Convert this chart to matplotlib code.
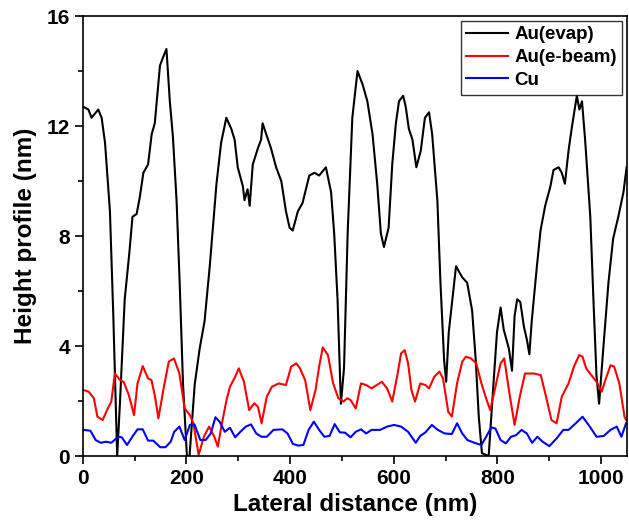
import matplotlib
matplotlib.use("Agg")
import matplotlib.pyplot as plt
from matplotlib.ticker import MultipleLocator

plt.rcParams['font.family'] = ['Liberation Sans', 'DejaVu Sans']
plt.rcParams['font.weight'] = 'bold'

# Au(evap) height profile
evap_x = [1, 11, 17, 30, 36.5, 43, 52.5, 59, 66.5, 72, 81, 90, 96, 104, 110, 117, 126, 133, 139, 149,
          155, 161.5, 168, 174, 181, 187, 193.5, 201, 206, 216, 225.5, 235, 245, 258, 267, 277, 286.5, 293,
          299, 309, 312, 318, 322, 328, 338, 344, 347, 354, 363, 373, 383, 392, 399, 405, 415, 424, 437,
          447, 456, 469, 479, 485, 491.5, 498, 504, 511, 520, 530, 540, 549, 559, 568, 575, 581, 590, 597,
          604, 610, 618, 623, 629, 636, 643.5, 652, 660, 668, 674, 684, 690, 697, 701, 706, 713, 720, 732,
          741.5, 751, 758, 764, 770, 783, 790, 799, 806, 812, 822, 828, 833, 838, 844, 851, 857, 861.5,
          866, 876, 883, 892, 902, 908, 918, 924, 930, 937, 943, 953, 958, 963, 969, 979, 985, 991, 996,
          1004, 1014, 1023, 1033, 1043, 1049]
evap_y = [12.7, 12.6, 12.3, 12.6, 12.3, 11.4, 8.9, 5.1, 0.0, 2.0, 5.7, 7.4, 8.7, 8.8, 9.4, 10.3, 10.6, 11.7,
          12.1, 14.2, 14.5, 14.8, 12.9, 11.6, 9.3, 6.3, 2.6, 0.0, 0.0, 2.6, 3.9, 4.9, 6.9, 9.9, 11.4, 12.3,
          11.9, 11.5, 10.5, 9.8, 9.3, 9.7, 9.1, 10.6, 11.2, 11.5, 12.1, 11.7, 11.2, 10.5, 10.0, 8.9, 8.3,
          8.2, 8.9, 9.2, 10.2, 10.3, 10.2, 10.5, 9.6, 8.1, 5.7, 1.9, 3.2, 8.1, 12.3, 14.0, 13.5, 12.9, 11.7,
          9.9, 8.1, 7.6, 8.3, 10.6, 12.1, 12.9, 13.1, 12.7, 11.9, 11.5, 10.5, 11.1, 12.3, 12.5, 11.7, 9.3,
          6.3, 3.5, 2.7, 4.5, 5.7, 6.9, 6.5, 6.3, 5.3, 3.5, 1.4, 0.1, 0.0, 2.0, 4.5, 5.4, 4.6, 3.9, 3.1,
          5.1, 5.7, 5.6, 4.7, 4.2, 3.7, 4.9, 6.9, 8.2, 9.1, 9.8, 10.4, 10.5, 10.3, 9.9, 11.1, 11.9, 13.1,
          12.6, 12.9, 11.5, 8.7, 5.7, 2.9, 1.9, 3.9, 6.3, 7.9, 8.7, 9.6, 10.5]

# Au(e-beam) height profile
ebeam_x = [1.3, 11.4, 21.5, 28.3, 38.4, 48.5, 55.2, 62, 72, 78.8, 88.9, 99, 105.7, 115.8, 126, 132.7, 139.4,
           146, 156, 166, 176, 186.5, 196.6, 206.7, 213.5, 223.6, 233.7, 243.8, 253.9, 260.6, 267.3, 277.4,
           284, 294, 301, 311, 321, 331, 338, 345, 355, 365, 378, 392, 402, 412, 419, 429, 439, 449, 456,
           463, 473, 483, 493, 503, 510, 516.5, 526.6, 536.7, 546.8, 557, 567, 577, 587, 597, 607.4, 614,
           621, 627.6, 634, 641, 651, 661, 668, 678, 688, 695, 705, 712, 722, 732, 739, 749, 759, 769, 779,
           786, 796, 806, 813, 823, 833, 843, 853, 870, 883.5, 893.6, 904, 914, 924, 937, 947.5, 957.6, 964,
           971, 981, 991, 1001, 1008, 1018, 1025, 1035, 1045, 1048]
ebeam_y = [2.4, 2.34, 2.1, 1.43, 1.31, 1.73, 1.98, 3.0, 2.76, 2.7, 2.22, 1.49, 2.64, 3.27, 2.82, 2.76, 2.16,
           1.37, 2.46, 3.43, 3.55, 3.0, 1.73, 1.49, 1.19, 0.04, 0.7, 1.07, 0.7, 0.34, 1.07, 2.04, 2.52, 2.88,
           3.19, 2.7, 1.67, 1.92, 1.79, 1.19, 2.16, 2.52, 2.64, 2.58, 3.25, 3.37, 3.19, 2.76, 1.67, 2.4, 3.25,
           3.95, 3.67, 2.64, 2.1, 1.98, 2.1, 2.04, 1.73, 2.64, 2.58, 2.46, 2.58, 2.7, 2.46, 1.98, 3.0, 3.73,
           3.85, 3.37, 2.4, 1.98, 2.64, 2.58, 2.46, 2.88, 3.07, 2.82, 1.61, 1.43, 2.64, 3.43, 3.61, 3.55, 3.37,
           2.64, 2.04, 1.67, 2.52, 3.37, 3.55, 2.28, 1.13, 2.16, 3.0, 3.0, 2.94, 2.16, 1.31, 1.19, 2.16, 2.64,
           3.25, 3.67, 3.61, 3.19, 2.94, 2.7, 2.34, 2.76, 3.3, 3.25, 2.64, 1.43, 1.31]

# Cu height profile
cu_x = [1.3, 14.8, 25, 35, 45, 55, 68.7, 75.4, 85.5, 95.6, 105.7, 115.8, 126, 136, 149.5, 159.6, 169.7,
        176.4, 186.5, 196.6, 206.7, 215.5, 227, 237, 247, 256, 264, 274, 284, 294, 304, 314.5, 324.6, 334.7,
        344.8, 355, 368, 385, 395, 405.4, 415.5, 425.6, 435.7, 445.8, 456, 466, 476, 486, 496, 506, 516.5,
        526.6, 536.7, 546.8, 557, 573.7, 587, 600.7, 614, 627.6, 642.4, 651, 661, 673.4, 685, 698, 712,
        722, 732, 742, 755.6, 769, 779, 788, 796, 806, 816, 826, 836, 846.5, 856.6, 866.7, 877, 887, 900,
        914, 927, 937, 951, 964, 978, 991, 1005, 1018, 1030, 1039, 1048]
cu_y = [0.95, 0.92, 0.58, 0.48, 0.52, 0.48, 0.7, 0.68, 0.4, 0.7, 0.97, 0.97, 0.56, 0.56, 0.32, 0.32, 0.52,
        0.88, 1.07, 0.58, 1.13, 1.15, 0.58, 0.58, 0.82, 1.41, 1.25, 0.88, 1.03, 0.68, 0.88, 1.07, 1.15, 0.82,
        0.7, 0.7, 0.95, 0.97, 0.82, 0.44, 0.38, 0.4, 0.95, 1.25, 0.95, 0.7, 0.73, 1.16, 0.86, 0.85, 0.68,
        0.88, 0.97, 0.82, 0.95, 0.95, 1.07, 1.13, 1.07, 0.88, 0.48, 0.73, 0.86, 1.13, 0.95, 0.82, 0.8, 1.19,
        0.82, 0.58, 0.48, 0.4, 0.73, 1.04, 1.0, 0.58, 0.46, 0.7, 0.76, 0.95, 0.82, 0.48, 0.7, 0.52, 0.36,
        0.64, 0.95, 0.95, 1.19, 1.43, 1.07, 0.7, 0.73, 0.95, 1.07, 0.7, 1.19]

fig = plt.figure(figsize=(6.29, 5.27), dpi=100)
ax = fig.add_axes([0.1315, 0.1347, 0.8655, 0.8349])

ax.plot(evap_x, evap_y, color='black', lw=1.5, label='Au(evap)')
ax.plot(ebeam_x, ebeam_y, color='red', lw=1.5, label='Au(e-beam)')
ax.plot(cu_x, cu_y, color='blue', lw=1.5, label='Cu')

ax.set_xlim(0, 1050)
ax.set_ylim(0, 16)
ax.xaxis.set_major_locator(MultipleLocator(200))
ax.xaxis.set_minor_locator(MultipleLocator(100))
ax.yaxis.set_major_locator(MultipleLocator(4))
ax.yaxis.set_minor_locator(MultipleLocator(2))
ax.tick_params(which='major', direction='out', length=6, width=1.2, labelsize=15, pad=3)
ax.tick_params(which='minor', direction='out', length=3.5, width=1.2)
for sp in ax.spines.values():
    sp.set_linewidth(1.2)

ax.set_xlabel('Lateral distance (nm)', fontsize=17.5, fontweight='bold', labelpad=4)
ax.set_ylabel('Height profile (nm)', fontsize=17.5, fontweight='bold', labelpad=7)

leg = ax.legend(loc='upper right', frameon=True, fancybox=False, edgecolor='black',
                handlelength=2.2, handletextpad=0.35, borderpad=0.3, borderaxespad=0.25,
                labelspacing=0.3, prop={'weight': 'bold', 'size': 13.5})
leg.get_frame().set_linewidth(1.0)

fig.savefig('out.png', dpi=100)
